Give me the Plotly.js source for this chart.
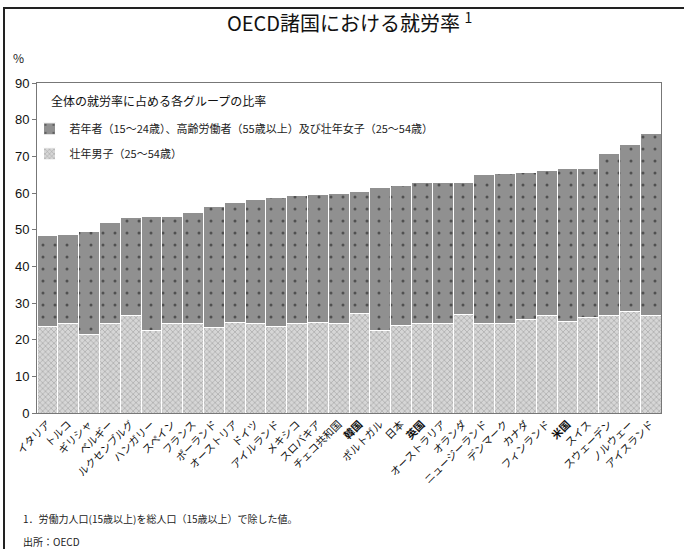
<!DOCTYPE html>
<html>
<head>
<meta charset="utf-8">
<script src="https://cdn.plot.ly/plotly-3.0.1.min.js"></script>
<style>
  html, body { margin: 0; padding: 0; background: #fff; }
  #wrap { position: relative; width: 684px; height: 549px; }
  #chart { width: 684px; height: 549px; }
  #frame { position: absolute; left: 3px; top: 7px; width: 681px; height: 542px;
           border-top: 2px solid #222; border-left: 2px solid #222; box-sizing: border-box;
           pointer-events: none; }
</style>
</head>
<body>
<div id="wrap">
  <div id="chart"></div>
  <div id="frame"></div>
</div>
<script>
// Countries (sorted by total employment rate)
const countries = [
  "イタリア", "トルコ", "ギリシャ", "ベルギー", "ルクセンブルグ", "ハンガリー",
  "スペイン", "フランス", "ポーランド", "オーストリア", "ドイツ", "アイルランド",
  "メキシコ", "スロバキア", "チェコ共和国", "韓国", "ポルトガル", "日本",
  "英国", "オーストラリア", "オランダ", "ニュージーランド", "デンマーク", "カナダ",
  "フィンランド", "米国", "スイス", "スウェーデン", "ノルウェー", "アイスランド"
];
// Share contributed by prime-age men (25-54), % of working-age population
const primeMen = [
  23.5, 24.3, 21.5, 24.3, 26.6, 22.6,
  24.3, 24.3, 23.3, 24.8, 24.3, 23.7,
  24.3, 24.6, 24.3, 27.2, 22.6, 24.0,
  24.3, 24.3, 27.0, 24.3, 24.3, 25.6,
  26.5, 24.9, 26.1, 26.7, 27.6, 26.7
];
// Share contributed by youth (15-24), older workers (55+) and prime-age women (25-54)
const others = [
  24.8, 24.5, 27.9, 27.6, 26.6, 30.9,
  29.2, 30.3, 33.1, 32.7, 33.9, 35.0,
  35.1, 34.9, 35.6, 33.3, 38.8, 38.0,
  38.7, 38.7, 36.0, 40.8, 41.1, 40.0,
  39.6, 41.7, 40.6, 44.0, 45.7, 49.4
];
const highlighted = ["韓国", "英国", "米国"];
const tickLabels = countries.map(c => highlighted.includes(c) ? "<b>" + c + "</b>" : c);

const seriesNames = [
  "壮年男子（25～54歳）",
  "若年者（15～24歳）、高齢労働者（55歳以上）及び壮年女子（25～54歳）"
];
const legendTitle = "全体の就労率に占める各グループの比率";

const FONT = "'Noto Sans CJK JP', 'Noto Sans', sans-serif";

const data = [
  {
    type: "bar", name: seriesNames[0], x: countries, y: primeMen,
    legendgroup: "g1", legendrank: 2,
    marker: {
      color: "#d0d0d0",
      line: { color: "#ffffff", width: 1 },
      pattern: { shape: "x", fgcolor: "#9a9a9a", bgcolor: "#d6d6d6", size: 4, solidity: 0.25 }
    },
    hoverinfo: "skip"
  },
  {
    type: "bar", name: seriesNames[1], x: countries, y: others,
    legendgroup: "g2", legendrank: 1,
    marker: {
      color: "#8e8e8e",
      line: { color: "#ffffff", width: 1 },
      pattern: { shape: ".", fgcolor: "#505050", bgcolor: "#909090", size: 12, solidity: 0.05 }
    },
    hoverinfo: "skip"
  }
];

const layout = {
  width: 684, height: 549,
  margin: { l: 37, r: 23, t: 83, b: 136 },
  paper_bgcolor: "#ffffff", plot_bgcolor: "#ffffff",
  font: { family: FONT, color: "#222", size: 11 },
  barmode: "stack", bargap: 0,
  showlegend: true,
  title: {
    text: "OECD諸国における就労率 <sup>1</sup>",
    font: { family: FONT, size: 20, color: "#111" },
    x: 0.501, xref: "paper", xanchor: "center",
    y: 0.956, yref: "container", yanchor: "middle"
  },
  xaxis: {
    type: "category",
    tickvals: countries, ticktext: tickLabels,
    tickangle: -45,
    tickfont: { family: FONT, size: 10.5, color: "#111" },
    showline: true, mirror: true, linecolor: "#777", linewidth: 1,
    ticks: "", showgrid: false, zeroline: false, automargin: false
  },
  yaxis: {
    range: [0, 90], dtick: 10,
    tickfont: { family: "'Liberation Sans', Arial, sans-serif", size: 13, color: "#111" },
    showline: true, mirror: true, linecolor: "#777", linewidth: 1,
    ticks: "outside", ticklen: 4, tickcolor: "#777",
    showgrid: false, zeroline: false, automargin: false
  },
  legend: {
    x: -0.012, y: 0.905, xanchor: "left", yanchor: "top",
    xref: "paper", yref: "paper",
    bgcolor: "rgba(255,255,255,0)",
    traceorder: "grouped",
    tracegroupgap: 6,
    itemwidth: 30,
    font: { family: FONT, size: 11, color: "#222" }
  },
  annotations: [
    { text: legendTitle, xref: "paper", yref: "paper", x: 0.019, y: 0.946,
      xanchor: "left", yanchor: "middle", showarrow: false,
      font: { family: FONT, size: 12, color: "#111" } },
    { text: "%", xref: "paper", yref: "paper", x: -0.03, y: 1.076,
      xanchor: "center", yanchor: "middle", showarrow: false,
      font: { family: FONT, size: 12, color: "#222" } },
    { text: "1．労働力人口(15歳以上)を総人口（15歳以上）で除した値。",
      xref: "paper", yref: "paper", x: -0.026, y: -0.321,
      xanchor: "left", yanchor: "middle", showarrow: false,
      font: { family: FONT, size: 10, color: "#222" } },
    { text: "出所：OECD",
      xref: "paper", yref: "paper", x: -0.026, y: -0.388,
      xanchor: "left", yanchor: "middle", showarrow: false,
      font: { family: FONT, size: 10, color: "#222" } }
  ]
};

Plotly.newPlot("chart", data, layout, { displayModeBar: false, staticPlot: true });
</script>
</body>
</html>
